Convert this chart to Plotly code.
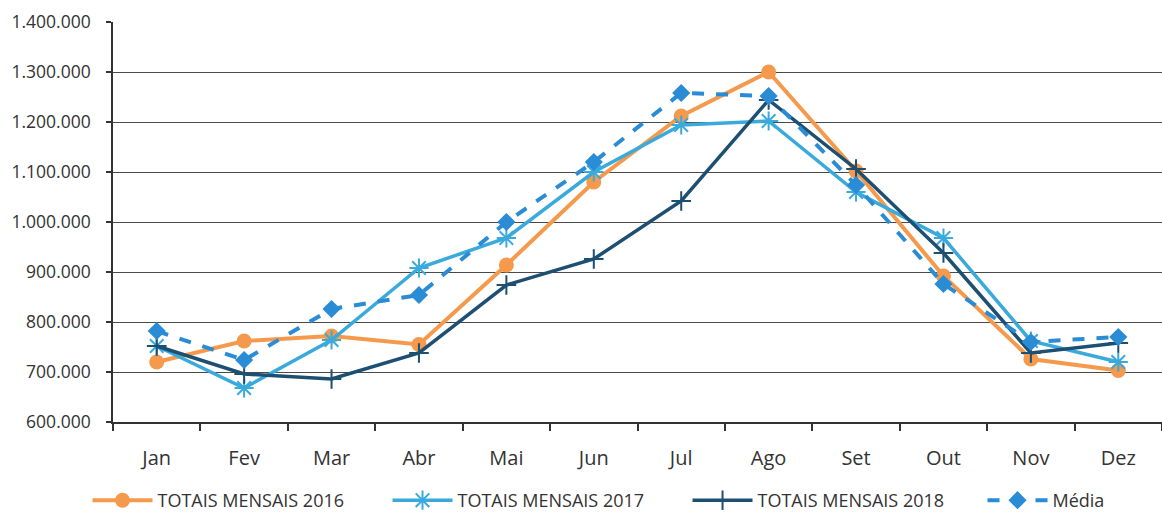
import plotly.graph_objects as go

months = ["Jan", "Fev", "Mar", "Abr", "Mai", "Jun", "Jul", "Ago", "Set", "Out", "Nov", "Dez"]
totais_2016 = [720000, 762000, 772000, 755000, 914000, 1080000, 1212000, 1300000, 1102000, 892000, 726000, 703000]
totais_2017 = [752000, 668000, 764000, 908000, 968000, 1100000, 1194000, 1202000, 1060000, 968000, 762000, 720000]
totais_2018 = [752000, 696000, 686000, 738000, 874000, 926000, 1042000, 1244000, 1106000, 938000, 738000, 758000]
media = [782000, 724000, 826000, 854000, 1000000, 1120000, 1258000, 1252000, 1074000, 876000, 760000, 770000]

y_ticks = [600000, 700000, 800000, 900000, 1000000, 1100000, 1200000, 1300000, 1400000]
y_labels = ["600.000", "700.000", "800.000", "900.000", "1.000.000", "1.100.000", "1.200.000", "1.300.000", "1.400.000"]

fig = go.Figure()
fig.add_trace(go.Scatter(x=months, y=totais_2016, name="TOTAIS MENSAIS 2016", mode="lines+markers",
                         legend="legend",
                         line=dict(color="#F59A4C", width=4),
                         marker=dict(symbol="circle", size=15, color="#F59A4C")))
fig.add_trace(go.Scatter(x=months, y=totais_2017, name="TOTAIS MENSAIS 2017", mode="lines+markers",
                         legend="legend2",
                         line=dict(color="#3AAADC", width=3.5),
                         marker=dict(symbol="asterisk-open", size=16, color="#3AAADC",
                                     line=dict(color="#3AAADC", width=2))))
fig.add_trace(go.Scatter(x=months, y=totais_2018, name="TOTAIS MENSAIS 2018", mode="lines+markers",
                         legend="legend3",
                         line=dict(color="#1D4F73", width=3.5),
                         marker=dict(symbol="cross-thin-open", size=14, color="#1D4F73",
                                     line=dict(color="#1D4F73", width=2))))
fig.add_trace(go.Scatter(x=months, y=media, name="Média", mode="lines+markers",
                         legend="legend4",
                         line=dict(color="#2A8CD4", width=4, dash="dash"),
                         marker=dict(symbol="diamond", size=14, color="#2A8CD4")))

legend_x = [-0.0243, 0.2617, 0.5477, 0.8289]
legend_style = dict(orientation="h", xanchor="left", y=-0.2425, yanchor="bottom",
                    font=dict(size=18, color="#333333"), itemwidth=60,
                    bgcolor="rgba(0,0,0,0)")

fig.update_layout(
    width=1162, height=519,
    margin=dict(l=113, r=0, t=22, b=97, autoexpand=False),
    paper_bgcolor="white", plot_bgcolor="white",
    font=dict(family="Open Sans, Liberation Sans, sans-serif", color="#333333"),
    showlegend=True,
    legend=dict(x=legend_x[0], **legend_style),
    legend2=dict(x=legend_x[1], **legend_style),
    legend3=dict(x=legend_x[2], **legend_style),
    legend4=dict(x=legend_x[3], **legend_style),
    xaxis=dict(type="category", range=[-0.5, 11.5], showgrid=False, automargin=False,
               showline=True, linecolor="#333333", linewidth=1.5,
               ticks="outside", tickson="boundaries", ticklen=7, tickwidth=1.5, tickcolor="#333333",
               tickfont=dict(size=20, color="#333333"), ticklabelstandoff=17),
    yaxis=dict(range=[600000, 1400000], tickvals=y_ticks, ticktext=y_labels, automargin=False,
               showgrid=True, gridcolor="#4a4a4a", gridwidth=1.4,
               showline=True, linecolor="#333333", linewidth=1.5, zeroline=False,
               ticks="outside", ticklen=5, tickwidth=1.5, tickcolor="#333333",
               tickfont=dict(size=17.5, color="#333333"), ticklabelstandoff=12),
)

fig.write_html("out.html", config={"displayModeBar": False},
               post_script="document.body.style.margin='0';")
